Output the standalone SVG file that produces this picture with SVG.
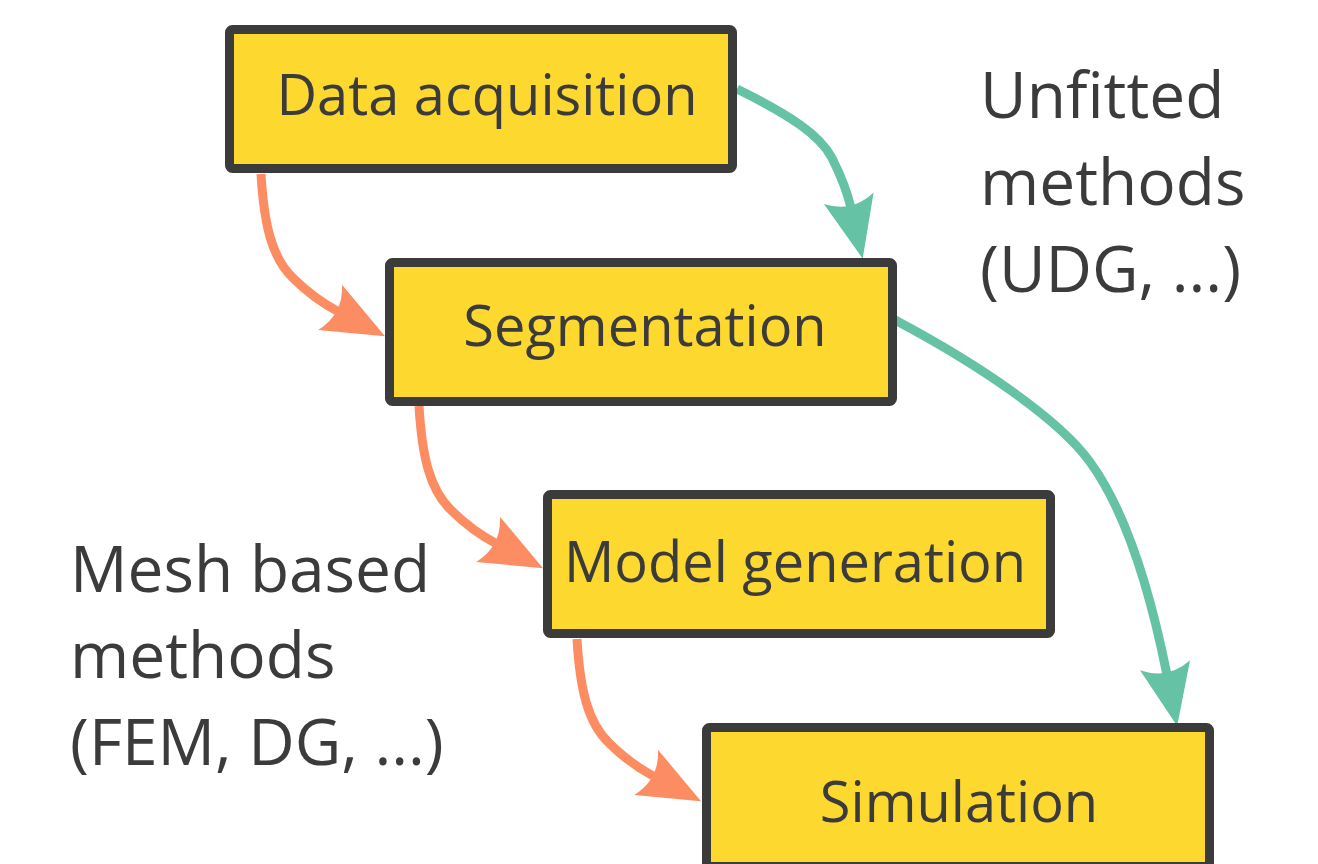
<svg xmlns="http://www.w3.org/2000/svg" width="1318" height="864" viewBox="0 0 1318 864">
  <style>
    .box { fill: #fdd82f; stroke: #3b3b3b; stroke-width: 9; }
    .label { font-family: "Open Sans", "Noto Sans", sans-serif; font-size: 56px; fill: #3b3b3b; text-anchor: middle; }
    .side { font-family: "Open Sans", "Noto Sans", sans-serif; font-size: 64px; fill: #3b3b3b; }
    .orange { fill: none; stroke: #fc8d62; stroke-width: 9; stroke-linecap: butt; }
    .green { fill: none; stroke: #66c2a5; stroke-width: 9; stroke-linecap: butt; }
  </style>
  <defs>
    <marker id="headO" markerUnits="userSpaceOnUse" orient="auto" refX="10" refY="0" markerWidth="80" markerHeight="60" viewBox="-5 -30 75 60" overflow="visible">
      <path d="M62,0 L0,-25.5 Q15,0 0,25.5 Z" fill="#fc8d62"/>
    </marker>
    <marker id="headG" markerUnits="userSpaceOnUse" orient="auto" refX="10" refY="0" markerWidth="80" markerHeight="60" viewBox="-5 -30 75 60" overflow="visible">
      <path d="M62,0 L0,-25.5 Q15,0 0,25.5 Z" fill="#66c2a5"/>
    </marker>
  </defs>
  <rect width="1318" height="864" fill="#ffffff"/>

  <g id="connectors">
    <path class="orange" marker-end="url(#headO)" d="M261,174 C264,225 272,258 293,278 C305,290 320,302 339,312"/>
    <path class="orange" marker-end="url(#headO)" d="M419,406 C422,457 430,490 451,510 C463,522 478,534 497,544"/>
    <path class="orange" marker-end="url(#headO)" d="M577,639 C580,690 588,723 609,743 C621,755 636,767 655,777"/>
    <path class="green" marker-end="url(#headG)" d="M737,89 C790,115 820,135 832,158 C842,178 848,195 851,208"/>
    <path class="green" marker-end="url(#headG)" d="M895,320 C980,365 1060,420 1090,462 C1125,510 1150,590 1167,675"/>
  </g>

  <g id="node-data-acquisition">
    <rect class="box" x="229.5" y="29.5" width="503" height="139" rx="3"/>
    <text class="label" x="487" y="115">Data acquisition</text>
  </g>
  <g id="node-segmentation">
    <rect class="box" x="389.5" y="262.5" width="503" height="139" rx="3"/>
    <text class="label" x="645" y="346">Segmentation</text>
  </g>
  <g id="node-model-generation">
    <rect class="box" x="547.5" y="494.5" width="503" height="139" rx="3"/>
    <text class="label" x="795" y="582">Model generation</text>
  </g>
  <g id="node-simulation">
    <rect class="box" x="706.5" y="727.5" width="503" height="139" rx="3"/>
    <text class="label" x="959" y="822">Simulation</text>
  </g>

  <g id="label-unfitted">
    <text class="side" x="980" y="118">Unfitted</text>
    <text class="side" x="980" y="205">methods</text>
    <text class="side" x="980" y="292">(UDG, ...)</text>
  </g>
  <g id="label-mesh">
    <text class="side" x="70" y="592">Mesh based</text>
    <text class="side" x="70" y="678">methods</text>
    <text class="side" x="70" y="765">(FEM, DG, ...)</text>
  </g>
</svg>
